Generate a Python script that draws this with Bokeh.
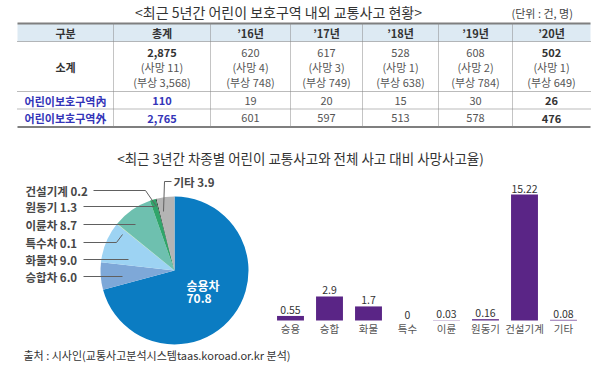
import numpy as np
from bokeh.plotting import figure
from bokeh.models import Range1d, ColumnDataSource
from bokeh.core.properties import value
from bokeh.embed import file_html
from bokeh.resources import INLINE

# ---------------- data ----------------
title1 = "<최근 5년간 어린이 보호구역 내외 교통사고 현황>"
unit_note = "(단위 : 건, 명)"
table_header = ["구분", "총계", "’16년", "’17년", "’18년", "’19년", "’20년"]
row_labels = ["소계", "어린이보호구역內", "어린이보호구역外"]
total_cases = ["2,875", "620", "617", "528", "608", "502"]
total_deaths = ["11", "4", "3", "1", "2", "1"]
total_injuries = ["3,568", "748", "749", "638", "784", "649"]
zone_in = ["110", "19", "20", "15", "30", "26"]
zone_out = ["2,765", "601", "597", "513", "578", "476"]

title2 = "<최근 3년간 차종별 어린이 교통사고와 전체 사고 대비 사망사고율)"
pie_labels = ["승용차", "승합차", "화물차", "특수차", "이륜차", "원동기", "건설기계", "기타"]
pie_values = [70.8, 6.0, 9.0, 0.1, 8.7, 1.3, 0.2, 3.9]
pie_colors = ["#0B7CC2", "#7EA8D8", "#9DD3F3", "#D8EE8C", "#6EC0AF", "#30A56A", "#1E3A2B", "#B4B4B4"]

bar_labels = ["승용", "승합", "화물", "특수", "이륜", "원동기", "건설기계", "기타"]
bar_values = [0.55, 2.9, 1.7, 0, 0.03, 0.16, 15.22, 0.08]
source_note = "출처 : 시사인(교통사고분석시스템taas.koroad.or.kr 분석)"

# ---------------- figure ----------------
FONT = "Noto Sans CJK KR"
WW, HH = 599, 371
def Y(py):
    return HH - py

p = figure(width=WW, height=HH, x_range=Range1d(0, WW), y_range=Range1d(0, HH),
           output_backend="svg", toolbar_location=None, min_border=0,
           x_axis_location=None, y_axis_location=None)
p.grid.visible = False
p.outline_line_color = None
p.background_fill_color = "white"

def txt(x, y, t, size="11px", color="#3c3c3c", align="center", bold=False, **kw):
    p.text(x=x, y=y, text=t, text_font=value(FONT), text_font_size=size,
           text_color=color, text_align=align, text_baseline="middle",
           text_font_style="bold" if bold else "normal", **kw)

# titles
txt([278], [Y(11)], [title1], size="14px", color="#333333")
txt([511], [Y(12)], [unit_note], size="11px", color="#444444", align="left")
txt([300], [Y(157)], [title2], size="13.5px", color="#333333")

# ---------------- table ----------------
bounds = [17, 113, 210, 290, 362, 438, 512, 590]
centers = [(bounds[i] + bounds[i + 1]) / 2 for i in range(len(bounds) - 1)]
p.quad(left=17, right=590, top=Y(23), bottom=Y(41), color="#DDEAF3", line_color=None)
p.segment(x0=[17, 17], y0=[Y(23), Y(126.5)], x1=[590, 590], y1=[Y(23), Y(126.5)],
          line_color="#7f7f7f", line_width=2)
p.segment(x0=[17] * 3, y0=[Y(41), Y(91), Y(108.5)], x1=[590] * 3, y1=[Y(41), Y(91), Y(108.5)],
          line_color="#777777", line_width=1, line_dash="1 1")
p.segment(x0=bounds[1:-1], y0=[Y(23)] * 6, x1=bounds[1:-1], y1=[Y(126.5)] * 6,
          line_color="#888888", line_width=1, line_dash="1 1")

txt(centers, [Y(32.5)] * 7, table_header, bold=True, color="#333333")
BLUE = "#3434B8"
txt([centers[0]], [Y(66.5)], [row_labels[0]], bold=True, color="#333333")
txt([centers[0]] * 2, [Y(100), Y(117.5)], row_labels[1:], bold=True, color=BLUE)

bold_cols = [0, 5]
for j in range(6):
    b = j in bold_cols
    txt([centers[j + 1]], [Y(52)], [total_cases[j]], bold=b, color="#333333" if b else "#555555")
    txt([centers[j + 1]], [Y(66.5)], ["(사망 " + total_deaths[j] + ")"], color="#555555")
    txt([centers[j + 1]], [Y(81)], ["(부상 " + total_injuries[j] + ")"], color="#555555")
    col_in = BLUE if j == 0 else ("#333333" if b else "#555555")
    txt([centers[j + 1]], [Y(100)], [zone_in[j]], bold=b, color=col_in)
    txt([centers[j + 1]], [Y(117.5)], [zone_out[j]], bold=b, color=col_in)

# ---------------- pie ----------------
vals = np.array(pie_values)
cum = np.concatenate([[0], np.cumsum(vals)]) / vals.sum() * 2 * np.pi
pie_src = ColumnDataSource(dict(
    start=np.pi / 2 - cum[1:], end=np.pi / 2 - cum[:-1], color=pie_colors, label=pie_labels))
p.wedge(x=174, y=Y(270), radius=74, start_angle="start", end_angle="end",
        direction="anticlock", fill_color="color", line_color=None, source=pie_src)

leader_xs = [[93, 145, 156], [83, 154], [83, 135], [83, 116, 122], [83, 128], [83, 122], [171, 164, 163]]
leader_ys = [[190, 190, 206], [206, 206], [224, 224], [242, 242, 234], [259, 259], [276, 276], [181, 181, 211]]
p.multi_line(xs=leader_xs, ys=[[Y(v) for v in ys] for ys in leader_ys], line_color="#606060", line_width=1)

left_order = [6, 5, 4, 3, 2, 1]
left_y = [190, 206, 224, 242, 259, 276]
txt([25] * 6, [Y(v) for v in left_y],
    [f"{pie_labels[i]} {pie_values[i]:.1f}" for i in left_order],
    size="11.5px", color="#474747", align="left", bold=True)
txt([173], [Y(181)], [f"{pie_labels[7]} {pie_values[7]:.1f}"], size="11.5px", color="#474747",
    align="left", bold=True)
txt([186, 186], [Y(285), Y(298)], [pie_labels[0], f"{pie_values[0]:.1f}"], size="12px",
    color="white", align="left", bold=True)

# ---------------- bars ----------------
p.extra_x_ranges = {"bx": Range1d(-(290 - 0) / 39, (WW - 290) / 39)}
p.extra_y_ranges = {"by": Range1d((0 - Y(320)) * 15.22 / 126, (HH - Y(320)) * 15.22 / 126)}
idx = list(range(len(bar_values)))
bar_src = ColumnDataSource(dict(x=idx, top=bar_values, lab=bar_labels,
                                vlab=[f"{v:g}" for v in bar_values]))
p.vbar(x="x", top="top", bottom=0, width=0.69, fill_color="#5A2586", line_color=None,
       source=bar_src, x_range_name="bx", y_range_name="by")
p.text(x="x", y="top", text="vlab", source=bar_src, x_range_name="bx", y_range_name="by",
       text_font=value(FONT), text_font_size="10.5px", text_color="#333333",
       text_align="center", text_baseline="bottom", y_offset=-2)
p.text(x="x", y=0, text="lab", source=bar_src, x_range_name="bx", y_range_name="by",
       text_font=value(FONT), text_font_size="10.5px", text_color="#555555",
       text_align="center", text_baseline="middle", y_offset=8)

txt([23], [Y(354)], [source_note], size="11px", color="#333333", align="left")

open("out.html", "w").write(file_html(p, INLINE))
